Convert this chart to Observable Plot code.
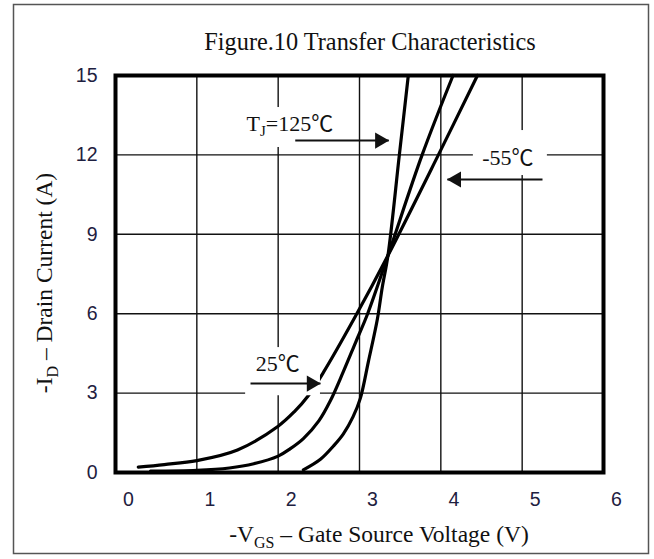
<!DOCTYPE html>
<html>
<head>
<meta charset="utf-8">
<script src="https://cdn.jsdelivr.net/npm/d3@7"></script>
<script src="https://cdn.jsdelivr.net/npm/@observablehq/plot@0.6"></script>
<style>
  html, body { margin: 0; padding: 0; background: #fff; }
</style>
</head>
<body>
<div id="chart"></div>
<script>
// ---- data ----
const xTicks = [0, 1, 2, 3, 4, 5, 6];
const yTicks = [0, 3, 6, 9, 12, 15];

const seriesNames = ["-55℃", "25℃", "125℃"];
// curve that ends right-most at the top
const vgsM55 = [0.28, 0.6, 1.0, 1.5, 2.0, 2.2, 2.37, 2.56, 2.95, 3.35, 3.97, 4.45];
const idM55  = [0.2, 0.3, 0.45, 0.85, 1.75, 2.3, 2.9, 3.8, 5.9, 8.2, 12, 15];
// middle curve
const vgs25 = [0.43, 1.0, 1.4, 1.7, 2.0, 2.15, 2.31, 2.5, 2.64, 2.8, 2.95, 3.1, 3.35, 3.77, 4.15];
const id25  = [0.05, 0.08, 0.17, 0.33, 0.62, 0.9, 1.28, 1.95, 2.7, 3.8, 4.9, 6.0, 8.2, 12, 15];
// steepest curve
const vgs125 = [2.31, 2.52, 2.68, 2.8, 2.92, 3.01, 3.11, 3.22, 3.28, 3.35, 3.49, 3.6];
const id125  = [0.1, 0.5, 1.0, 1.45, 2.1, 2.8, 4.2, 5.8, 7.0, 8.2, 12, 15];

// annotations
const labelParts = [
  [["T", false], ["J", true], ["=125℃", false]],
  [["-55℃", false]],
  [["25℃", false]]
];
const labelX = [2.15, 4.83, 2.0];
const labelY = [13.2, 11.9, 4.12];
const boxX1 = [1.54, 4.40, 1.60];
const boxX2 = [2.77, 5.31, 2.52];
const boxY1 = [12.28, 11.22, 2.9];
const boxY2 = [13.79, 12.92, 4.72];
const arrowX1 = [2.21, 5.25, 1.66];
const arrowX2 = [3.36, 4.08, 2.52];
const arrowY = [12.54, 11.07, 3.36];

const titleText = "Figure.10 Transfer Characteristics";

// ---- build tables ----
const rows = [];
[[vgsM55, idM55], [vgs25, id25], [vgs125, id125]].forEach(([xs, ys], i) => {
  xs.forEach((v, j) => rows.push({series: seriesNames[i], vgs: v, id: ys[j]}));
});
const boxes = boxX1.map((_, i) => ({x1: boxX1[i], x2: boxX2[i], y1: boxY1[i], y2: boxY2[i]}));
const arrows = arrowX1.map((_, i) => ({x1: arrowX1[i], x2: arrowX2[i], y: arrowY[i], right: arrowX2[i] > arrowX1[i]}));

const W = 654, H = 559;
const chart = Plot.plot({
  width: W, height: H,
  marginLeft: 115, marginRight: 51, marginTop: 75, marginBottom: 87,
  x: {domain: [0, 6], ticks: xTicks},
  y: {domain: [0, 15], ticks: yTicks},
  style: {fontFamily: "'Liberation Sans', Arial, sans-serif", fontSize: "19.5px", color: "#1e2040", background: "#fff", overflow: "visible"},
  marks: [
    Plot.gridX(xTicks, {stroke: "#111", strokeOpacity: 1, strokeWidth: 1.4}),
    Plot.gridY(yTicks, {stroke: "#111", strokeOpacity: 1, strokeWidth: 1.4}),
    Plot.line(rows, {x: "vgs", y: "id", z: "series", stroke: "#000", strokeWidth: 3.2, curve: "catmull-rom"}),
    Plot.rect(boxes, {x1: "x1", x2: "x2", y1: "y1", y2: "y2", fill: "#fff"}),
    Plot.link(arrows, {x1: "x1", x2: "x2", y1: "y", y2: "y", stroke: "#111", strokeWidth: 2}),
    Plot.dot(arrows.filter(d => d.right), {x: "x2", y: "y", symbol: "triangle", r: 6, fill: "#111", stroke: "none", rotate: 90, dx: -9}),
    Plot.dot(arrows.filter(d => !d.right), {x: "x2", y: "y", symbol: "triangle", r: 6, fill: "#111", stroke: "none", rotate: -90, dx: 9}),
    Plot.frame({stroke: "#000", strokeWidth: 4}),
    Plot.axisX(xTicks, {tickSize: 0, tickPadding: 20, dx: 13, label: null, fill: "#1e2040"}),
    Plot.axisY(yTicks, {tickSize: 0, tickPadding: 18, label: null, fill: "#1e2040"})
  ]
});
document.getElementById("chart").appendChild(chart);

// ---- rich text (subscripts) ----
const sx = chart.scale("x"), sy = chart.scale("y");
const svg = d3.select(chart);
const serif = "'Liberation Serif', 'Times New Roman', 'Noto Sans CJK SC', serif";

function richText(g, parts, size) {
  let cur = 0;
  parts.forEach(([t, sub]) => {
    const target = sub ? size * 0.24 : 0;
    g.append("tspan")
      .attr("font-size", sub ? size * 0.68 : size)
      .attr("dy", target - cur)
      .text(t);
    cur = target;
  });
}
function addText(x, y, parts, size, anchor, rotate) {
  const t = svg.append("text")
    .attr("font-family", serif)
    .attr("fill", "#111")
    .attr("text-anchor", anchor || "middle");
  if (rotate) t.attr("transform", `translate(${x},${y}) rotate(${rotate})`);
  else t.attr("x", x).attr("y", y);
  richText(t, parts, size);
  return t;
}

// outer border
svg.append("rect").attr("x", 13.5).attr("y", 4.5).attr("width", 635).attr("height", 549)
  .attr("fill", "none").attr("stroke", "#555").attr("stroke-width", 1.5);

// title
addText(370, 50, [[titleText, false]], 24.3);
// x axis label
addText(379, 542, [["-V", false], ["GS", true], [" – Gate Source Voltage (V)", false]], 23.5);
// y axis label
addText(52, 283, [["-I", false], ["D", true], [" – Drain Current (A)", false]], 23.5, "middle", -90);

// annotation labels
labelParts.forEach((parts, i) => {
  addText(sx.apply(labelX[i]), sy.apply(labelY[i]) + 8, parts, 22);
});
</script>
</body>
</html>
